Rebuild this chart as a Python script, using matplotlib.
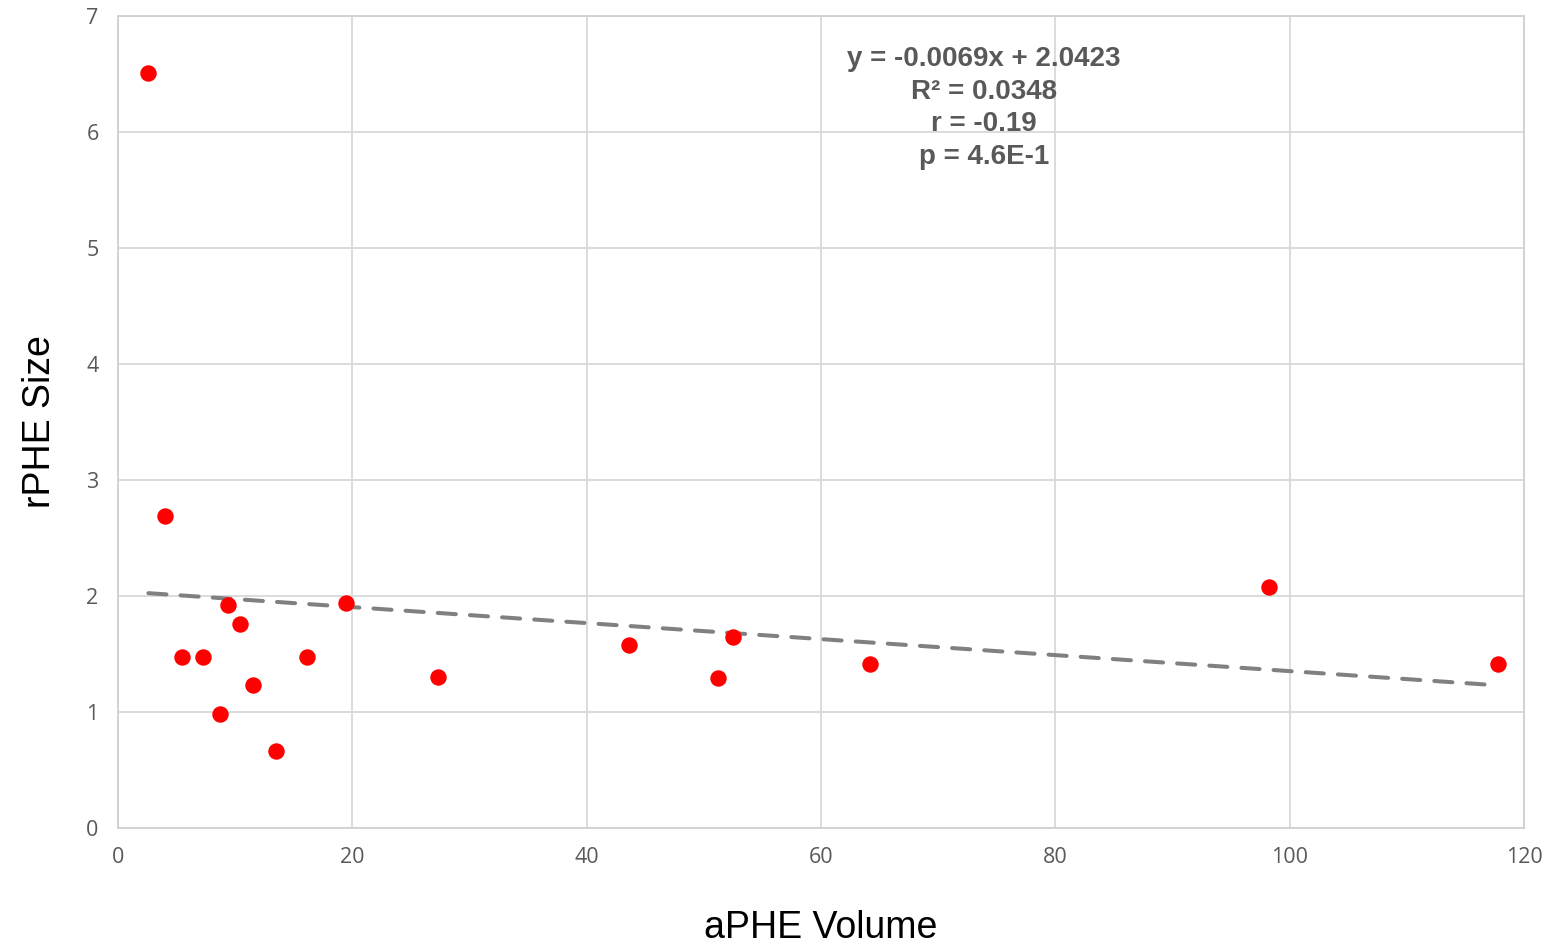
import numpy as np
import matplotlib.pyplot as plt

# aPHE volume vs rPHE size
aphe_volume = [2.6, 4.0, 5.5, 7.3, 8.7, 9.4, 10.4, 11.5, 13.5, 16.1, 19.5, 27.3, 43.6, 51.2, 52.5, 64.2, 98.2, 117.8]
rphe_size = [6.51, 2.69, 1.47, 1.47, 0.98, 1.92, 1.76, 1.23, 0.66, 1.47, 1.94, 1.30, 1.58, 1.29, 1.65, 1.41, 2.08, 1.41]

slope = -0.0069
intercept = 2.0423
stats_text = "y = -0.0069x + 2.0423\nR² = 0.0348\nr = -0.19\np = 4.6E-1"

fig = plt.figure(figsize=(15.52, 9.48), dpi=100)
ax = fig.add_axes([0.076, 0.1266, 0.906, 0.8565])

ax.scatter(aphe_volume, rphe_size, s=140, color='#ff0000', zorder=3, linewidths=0)

xs = np.array([min(aphe_volume), max(aphe_volume)])
ax.plot(xs, slope * xs + intercept, color='#808080', lw=2.9, ls=(0, (4.5, 3.5)),
        dash_capstyle='round', zorder=2)

ax.set_xlim(0, 120)
ax.set_ylim(0, 7)
ax.set_xticks(np.arange(0, 121, 20))
ax.set_yticks(np.arange(0, 8, 1))
ax.grid(True, color='#d9d9d9', lw=1.3)
ax.set_axisbelow(True)
for s in ax.spines.values():
    s.set_color('#d0d0d0')
    s.set_linewidth(1.3)
ax.tick_params(length=0, labelsize=15.5, labelcolor='#595959', pad=14)
for lab in ax.get_xticklabels() + ax.get_yticklabels():
    lab.set_family('Open Sans')

ax.set_xlabel('aPHE Volume', fontsize=27, family='Liberation Sans', labelpad=30)
ax.set_ylabel('rPHE Size', fontsize=27, family='Liberation Sans', labelpad=20)

ax.text(0.616, 0.963, stats_text, transform=ax.transAxes, ha='center', va='top',
        fontsize=20, fontweight='bold', color='#595959', family='Liberation Sans',
        linespacing=1.33)

fig.savefig('out.png', dpi=100)
